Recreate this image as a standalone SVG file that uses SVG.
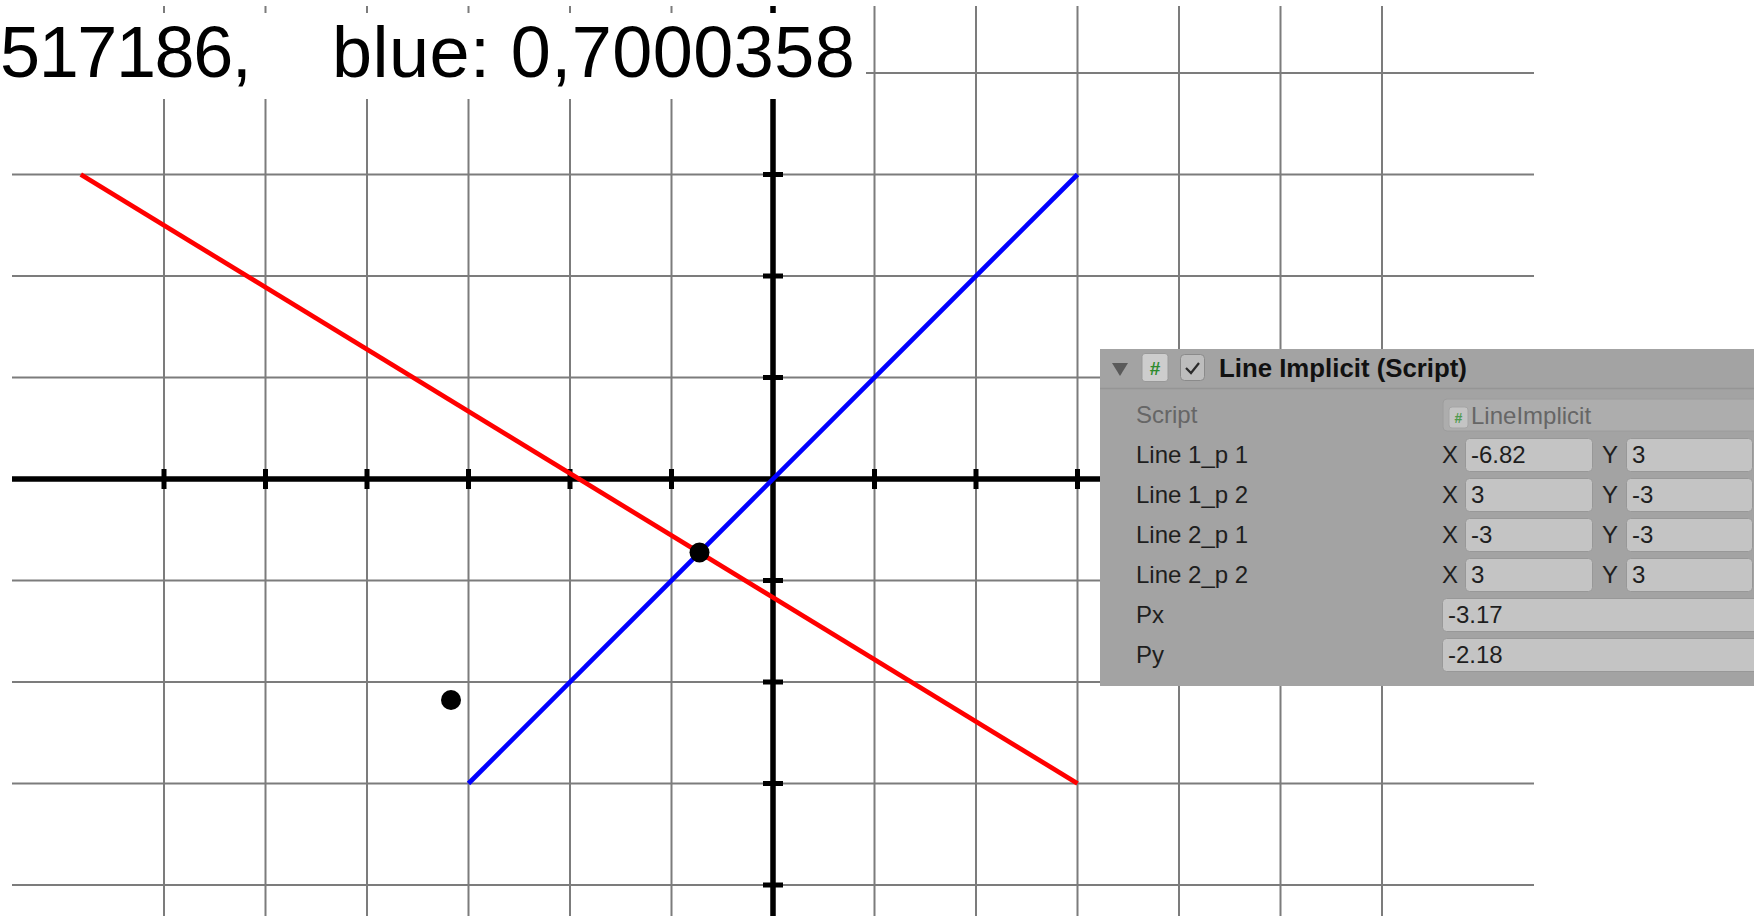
<svg xmlns="http://www.w3.org/2000/svg" width="1754" height="916" viewBox="0 0 1754 916">
<style>
.grid{stroke:#7c7c7c;stroke-width:2;fill:none}
.axis{stroke:#000;stroke-width:5.5;fill:none}
.tick{stroke:#000;stroke-width:5;fill:none}
.lbl{font-family:"Liberation Sans",Arial,sans-serif;font-size:24px;fill:#1e1e1e}
.dim{fill:#666}
.fld{fill:#c4c4c4;stroke:#989898;stroke-width:1}
.big{font-family:"Liberation Sans",Arial,sans-serif;font-size:72px;fill:#000}
</style>
<rect width="1754" height="916" fill="#fff"/>
<g id="grid">
<path class="grid" d="M164 6V916M265.5 6V916M367 6V916M468.5 6V916M570 6V916M671.5 6V916M874.5 6V916M976 6V916M1077.5 6V916M1179 6V916M1280.5 6V916M1382 6V916"/>
<path class="grid" d="M12 73H1534M12 174.5H1534M12 276H1534M12 377.5H1534M12 580.5H1534M12 682H1534M12 783.5H1534M12 885H1534"/>
</g>
<g id="axes">
<path class="axis" d="M12 479H1534M773 6V916"/>
<path class="tick" d="M164 469V489M265.5 469V489M367 469V489M468.5 469V489M570 469V489M671.5 469V489M874.5 469V489M976 469V489M1077.5 469V489M1179 469V489M1280.5 469V489M1382 469V489"/>
<path class="tick" d="M763 73H783M763 174.5H783M763 276H783M763 377.5H783M763 580.5H783M763 682H783M763 783.5H783M763 885H783"/>
</g>
<g id="caption">
<rect x="0" y="13" width="866" height="86" fill="#fff"/>
<text class="big" x="0" y="77" letter-spacing="-1.4">517186,</text>
<text class="big" x="332" y="77" letter-spacing="0.45">blue: 0,7000358</text>
</g>
<g id="connectors">
<line id="line1" x1="80.8" y1="174.5" x2="1077.5" y2="783.5" stroke="#ff0000" stroke-width="4.7"/>
<line id="line2" x1="468.5" y1="783.5" x2="1077.5" y2="174.5" stroke="#0000ff" stroke-width="4.7"/>
</g>
<g id="intersection"><circle cx="699.5" cy="552.5" r="10" fill="#000"/></g>
<g id="point-p"><circle cx="451" cy="700" r="10" fill="#000"/></g>
<g id="inspector">
<rect x="1100" y="349" width="654" height="337" fill="#a3a3a3"/>
<line x1="1100" y1="388.5" x2="1754" y2="388.5" stroke="#959595" stroke-width="1.5"/>
<polygon points="1112,363 1128,363 1120,376" fill="#5a5a5a"/>
<rect x="1142" y="353.5" width="26" height="28" rx="3" fill="#cdcdcd" stroke="#999"/>
<text x="1155" y="375" text-anchor="middle" font-family="Liberation Sans,Arial,sans-serif" font-size="19" font-weight="bold" fill="#2e8b2e">#</text>
<rect x="1180.5" y="354.5" width="24" height="26" rx="4" fill="#bdbdbd" stroke="#8a8a8a"/>
<path d="M1186 368 l5 5 l8 -10" stroke="#2b2b2b" stroke-width="2.2" fill="none"/>
<text x="1219" y="377" font-family="Liberation Sans,Arial,sans-serif" font-size="25.8" font-weight="bold" fill="#111">Line Implicit (Script)</text>
<text class="lbl dim" x="1136" y="423">Script</text>
<rect x="1443" y="399" width="330" height="32" rx="4" fill="#adadad" stroke="#9c9c9c"/>
<rect x="1449" y="407" width="19" height="21" rx="3" fill="#c4c4c4" stroke="#a5a5a5"/>
<text x="1458.5" y="423" text-anchor="middle" font-family="Liberation Sans,Arial,sans-serif" font-size="14" font-weight="bold" fill="#4f9a4f">#</text>
<text class="lbl dim" x="1471" y="424">LineImplicit</text>
<text class="lbl" x="1136" y="463">Line 1_p 1</text>
<text class="lbl" x="1136" y="503">Line 1_p 2</text>
<text class="lbl" x="1136" y="543">Line 2_p 1</text>
<text class="lbl" x="1136" y="583">Line 2_p 2</text>
<text class="lbl" x="1136" y="623">Px</text>
<text class="lbl" x="1136" y="663">Py</text>
<rect class="fld" x="1465.5" y="438.5" width="127" height="33" rx="4"/>
<rect class="fld" x="1626.5" y="438.5" width="126" height="33" rx="4"/>
<rect class="fld" x="1465.5" y="478.5" width="127" height="33" rx="4"/>
<rect class="fld" x="1626.5" y="478.5" width="126" height="33" rx="4"/>
<rect class="fld" x="1465.5" y="518.5" width="127" height="33" rx="4"/>
<rect class="fld" x="1626.5" y="518.5" width="126" height="33" rx="4"/>
<rect class="fld" x="1465.5" y="558.5" width="127" height="33" rx="4"/>
<rect class="fld" x="1626.5" y="558.5" width="126" height="33" rx="4"/>
<rect class="fld" x="1442.5" y="598.5" width="330" height="33" rx="4"/>
<rect class="fld" x="1442.5" y="638.5" width="330" height="33" rx="4"/>
<text class="lbl" x="1442" y="463">X</text><text class="lbl" x="1471" y="463">-6.82</text>
<text class="lbl" x="1602" y="463">Y</text><text class="lbl" x="1632" y="463">3</text>
<text class="lbl" x="1442" y="503">X</text><text class="lbl" x="1471" y="503">3</text>
<text class="lbl" x="1602" y="503">Y</text><text class="lbl" x="1632" y="503">-3</text>
<text class="lbl" x="1442" y="543">X</text><text class="lbl" x="1471" y="543">-3</text>
<text class="lbl" x="1602" y="543">Y</text><text class="lbl" x="1632" y="543">-3</text>
<text class="lbl" x="1442" y="583">X</text><text class="lbl" x="1471" y="583">3</text>
<text class="lbl" x="1602" y="583">Y</text><text class="lbl" x="1632" y="583">3</text>
<text class="lbl" x="1448" y="623">-3.17</text>
<text class="lbl" x="1448" y="663">-2.18</text>
</g>
</svg>
